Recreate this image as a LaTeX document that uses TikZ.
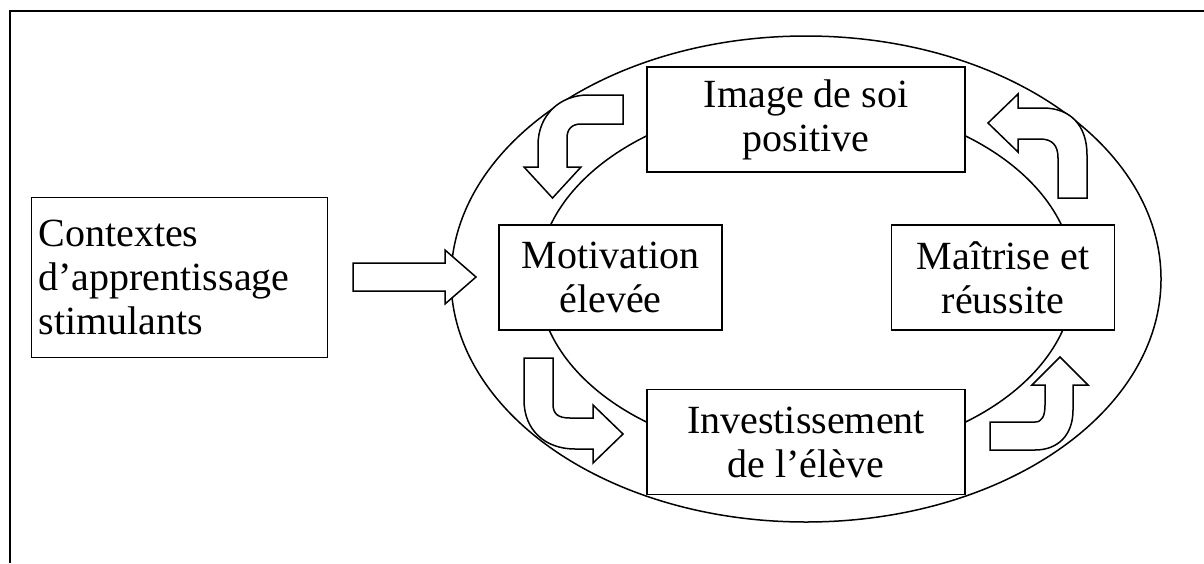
\documentclass[tikz,border=0pt]{standalone}
\usepackage{fontspec}
\setmainfont{Liberation Serif}
\usetikzlibrary{positioning}

\begin{document}
\begin{tikzpicture}[
    x=1pt, y=-1pt,
    box/.style={
        draw,
        line width=1.5pt,
        fill=white,
        align=center,
        inner sep=0pt,
        minimum height=105pt,
        font=\fontsize{40}{44}\selectfont,
    },
    wide/.style={box, minimum width=318pt},
    narrow/.style={box, minimum width=223pt},
    ring/.style={draw, line width=1.5pt},
    blockarrow/.style={draw, line width=1.5pt, fill=white, line join=miter},
    frame/.style={line width=2pt},
]
\useasboundingbox (0,0) rectangle (1204,563);

% cadre
\draw[frame] (9.5,563) -- (9.5,10.5) -- (1204,10.5);

% ellipses
\coordinate (ctr) at (806,279);
\draw[ring] (ctr) ellipse [x radius=355pt, y radius=243pt];
\draw[ring] (ctr) ellipse [x radius=268pt, y radius=178pt];

% boites
\node[narrow] (motiv) at (610.5,277.5) {Motivation\\élevée};
\node[narrow, right=168pt of motiv] (maitrise) {Maîtrise et\\réussite};
\node[wide] (image) at (806,119.5) {Image de soi\\positive};
\node[wide, below=216pt of image] (invest) {Investissement\\de l’élève};
\node[box, minimum width=296pt, minimum height=160pt, text width=282pt,
    align=left, left=170pt of motiv] (ctx)
    {Contextes\\d’apprentissage\\stimulants};

% fleche droite
\draw[blockarrow] (353,263) -- (445,263) -- (445,250) -- (476,277)
    -- (445,304) -- (445,291) -- (353,291) -- cycle;

% fleche haut gauche
\draw[blockarrow] (623,95) -- (588,95) .. controls (560,95) and (538,115) .. (538,145)
    -- (538,167) -- (524,167) -- (552.5,198) -- (581,167) -- (567,167) -- (567,138)
    .. controls (567,129) and (572,124) .. (581,124) -- (623,124) -- cycle;

% fleche haut droite
\draw[blockarrow] (1058,198) -- (1058,158) .. controls (1058,145) and (1052,139) .. (1040,139)
    -- (1018,139) -- (1018,152) -- (988,123) -- (1018,94) -- (1018,108) -- (1043,108)
    .. controls (1070,108) and (1087,125) .. (1087,155) -- (1087,198) -- cycle;

% fleche bas gauche
\draw[blockarrow] (524,358) -- (553,358) -- (553,404) .. controls (553,414) and (558,418) .. (570,418)
    -- (593,418) -- (593,405) -- (623,434) -- (593,463) -- (593,449) -- (575,449)
    .. controls (545,449) and (524,430) .. (524,400) -- cycle;

% fleche bas droite
\draw[blockarrow] (990,422) -- (1035,422) .. controls (1042,422) and (1045,416) .. (1045,405)
    -- (1045,385) -- (1032,385) -- (1060,357) -- (1088,385) -- (1073,385) -- (1073,410)
    .. controls (1073,435) and (1058,450) .. (1035,450) -- (990,450) -- cycle;

\end{tikzpicture}
\end{document}
